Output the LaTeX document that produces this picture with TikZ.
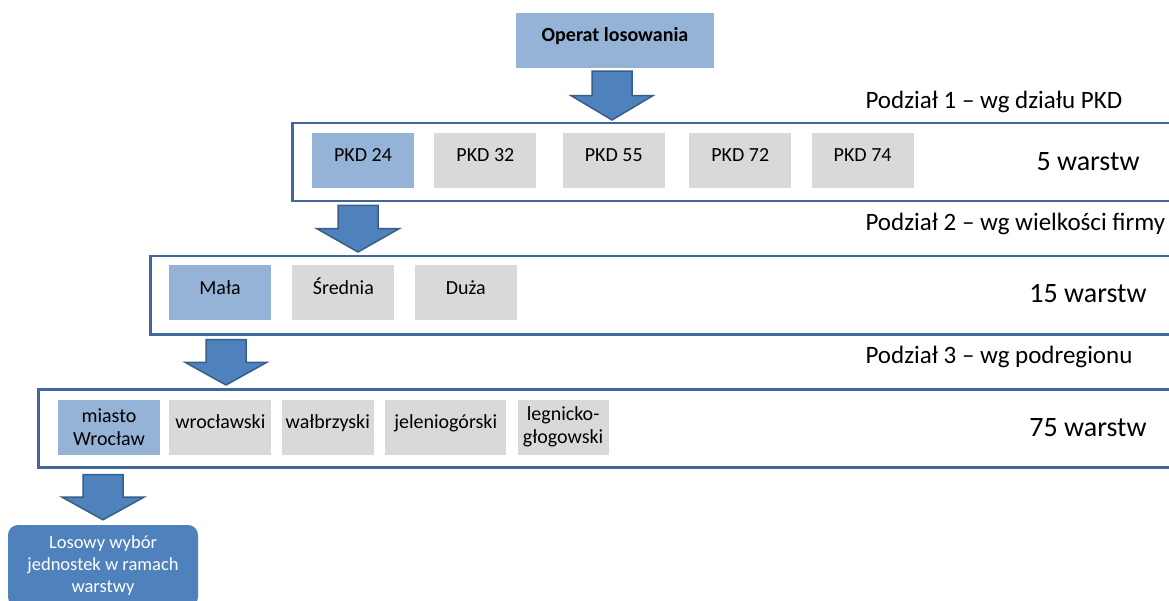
\documentclass[tikz,border=0pt]{standalone}
\usepackage{fontspec}
\setmainfont{Carlito}
\usetikzlibrary{positioning,calc}

\definecolor{boxblue}{HTML}{95B3D7}
\definecolor{boxgray}{HTML}{D9D9D9}
\definecolor{arrowblue}{HTML}{4F81BD}
\definecolor{edgeblue}{HTML}{385D8A}
\definecolor{frameblue}{HTML}{41689C}

% block arrow from top point #1 down to tip #2
\newcommand{\blockarrow}[2]{%
  \filldraw[blockarrow] let \p1=(#1), \p2=(#2) in
    (\x1-20pt,\y1) -- (\x1+20pt,\y1) -- (\x1+20pt,{(\y1+\y2)/2})
    -- (\x1+41pt,{(\y1+\y2)/2}) -- (\x1,\y2) -- (\x1-41pt,{(\y1+\y2)/2})
    -- (\x1-20pt,{(\y1+\y2)/2}) -- cycle;}

\begin{document}
\begin{tikzpicture}[x=1pt, y=-1pt,
    box/.style={fill=boxgray, minimum width=102pt, minimum height=55pt, inner sep=0pt, font=\fontsize{20}{23}\selectfont, align=center},
    oneline/.style={text height=14pt, text depth=11pt},
    chosen/.style={box, fill=boxblue},
    frame/.style={draw=frameblue, line width=2.5pt, minimum height=78pt, anchor=north west},
    heading/.style={anchor=west, font=\fontsize{25}{28}\selectfont},
    count/.style={font=\fontsize{28}{32}\selectfont},
    blockarrow/.style={fill=arrowblue, draw=edgeblue, line width=1.5pt, line join=miter}]
    \useasboundingbox (0,0) rectangle (1169,601);

    % Frames
    \node [frame, minimum width=900pt]  (frame1) at (291,122) {};
    \node [frame, minimum width=1040pt] (frame2) at (149,255) {};
    \node [frame, minimum width=1150pt] (frame3) at (37,388)  {};

    % Nodes
    \node [chosen, oneline, minimum width=198pt, font=\bfseries\fontsize{20}{23}\selectfont] (op) at (615,40.5) {Operat losowania};

    \node [chosen, oneline]  (pkd24) at (363,160.5)            {PKD 24};
    \node [box, oneline]     (pkd32) [right=20pt of pkd24]     {PKD 32};
    \node [box, oneline]     (pkd55) [right=26pt of pkd32]     {PKD 55};
    \node [box, oneline]     (pkd72) [right=24pt of pkd55]     {PKD 72};
    \node [box, oneline]     (pkd74) [right=20pt of pkd72]     {PKD 74};

    \node [chosen, oneline]  (mala)    at (220,293)            {Mała};
    \node [box, oneline]     (srednia) [right=21pt of mala]    {Średnia};
    \node [box, oneline]     (duza)    [right=20pt of srednia] {Duża};

    \node [chosen]  (miasto) at (109,427)             {miasto\\Wrocław};
    \node [box, oneline]     (wroc)   [right=9pt of miasto]    {wrocławski};
    \node [box, oneline, minimum width=92pt]  (walb) [right=10pt of wroc] {wałbrzyski};
    \node [box, oneline, minimum width=121pt] (jel)  [right=11pt of walb] {jeleniogórski};
    \node [box, minimum width=91pt]  (leg)  [right=11pt of jel]  {legnicko-\\głogowski};

    \node [fill=arrowblue, text=white, rounded corners=10pt, minimum width=190pt, minimum height=82pt,
           align=center, font=\fontsize{18.5}{22}\selectfont] (losowy) at (103,566)
           {Losowy wybór\\jednostek w ramach\\warstwy};

    % Labels
    \node [heading] (pod1) at (862,102) {Podział 1 – wg działu PKD};
    \node [heading] (pod2) at (862,224) {Podział 2 – wg wielkości firmy};
    \node [heading] (pod3) at (862,357) {Podział 3 – wg podregionu};
    \node [count]   (w5)   at (1088,162) {5 warstw};
    \node [count]   (w15)  at (1088,294) {15 warstw};
    \node [count]   (w75)  at (1088,428) {75 warstw};

    % Arrows
    \coordinate (a1t) at ([xshift=-3pt,yshift=-3pt]op.south);
    \coordinate (a1b) at ([yshift=2pt]a1t |- frame1.north);
    \coordinate (a2t) at ([xshift=-5pt,yshift=-3pt]pkd24.south |- frame1.south);
    \coordinate (a2b) at ([yshift=3pt]a2t |- frame2.north);
    \coordinate (a3t) at ([xshift=6pt,yshift=-4pt]mala.south |- frame2.south);
    \coordinate (a3b) at ([yshift=3pt]a3t |- frame3.north);
    \coordinate (a4t) at ([xshift=-6pt,yshift=-6pt]miasto.south |- frame3.south);
    \coordinate (a4b) at ([yshift=5pt]a4t |- losowy.north);
    \blockarrow{a1t}{a1b}
    \blockarrow{a2t}{a2b}
    \blockarrow{a3t}{a3b}
    \blockarrow{a4t}{a4b}

\end{tikzpicture}
\end{document}
